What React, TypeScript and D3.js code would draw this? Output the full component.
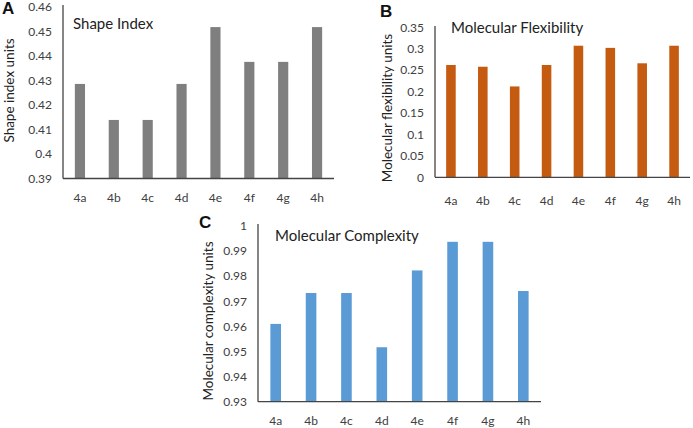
import React from "react";
import * as d3 from "d3";

const categories = ["4a", "4b", "4c", "4d", "4e", "4f", "4g", "4h"];
const shapeIndex = [0.4286, 0.4139, 0.4139, 0.4286, 0.4518, 0.4376, 0.4376, 0.4518];
const flexibility = [0.262, 0.258, 0.212, 0.262, 0.307, 0.302, 0.266, 0.307];
const complexity = [0.961, 0.9733, 0.9733, 0.9517, 0.9823, 0.9937, 0.9937, 0.9741];
const shapeTicks = [0.39, 0.4, 0.41, 0.42, 0.43, 0.44, 0.45, 0.46];
const flexTicks = [0, 0.05, 0.1, 0.15, 0.2, 0.25, 0.3, 0.35];
const complexTicks = [0.93, 0.94, 0.95, 0.96, 0.97, 0.98, 0.99, 1];

const FONT = "Lato, 'Open Sans', sans-serif";

type PanelProps = {
  letter: string;
  letterX: number;
  letterY: number;
  title: string;
  titleX: number;
  titleY: number;
  yLabel: string;
  yLabelX: number;
  yLabelY: number;
  x0: number;
  x1: number;
  yTop: number;
  yBottom: number;
  axisTop: number;
  values: number[];
  ticks: number[];
  color: string;
  tickLabelY: number;
  fmt: (v: number) => string;
};

function Panel(p: PanelProps) {
  const x = d3.scaleBand<string>().domain(categories).range([p.x0, p.x1]).paddingInner(0.7).paddingOuter(0.35);
  const y = d3.scaleLinear().domain([p.ticks[0], p.ticks[p.ticks.length - 1]]).range([p.yBottom, p.yTop]);
  const xc = (c: string) => (x(c) as number) + x.bandwidth() / 2;
  return (
    <g fontFamily={FONT}>
      <text x={p.letterX} y={p.letterY} fontSize={17} fontWeight="bold" fill="#111" fontFamily="'Liberation Sans', Arial, sans-serif">
        {p.letter}
      </text>
      {p.values.map((v, i) => (
        <rect
          key={i}
          x={x(categories[i])}
          y={y(v)}
          width={x.bandwidth()}
          height={p.yBottom - y(v)}
          fill={p.color}
        />
      ))}
      <line x1={p.x0} x2={p.x0} y1={p.axisTop} y2={p.yBottom} stroke="#444" strokeWidth={1.3} />
      <line x1={p.x0} x2={p.x1} y1={p.yBottom} y2={p.yBottom} stroke="#444" strokeWidth={1.3} />
      {p.ticks.map((t) => (
        <text key={t} x={p.x0 - 11} y={y(t)} dy="0.35em" textAnchor="end" fontSize={12} fill="#404040">
          {p.fmt(t)}
        </text>
      ))}
      {categories.map((c) => (
        <text key={c} x={xc(c)} y={p.tickLabelY} textAnchor="middle" fontSize={12} fill="#404040">
          {c}
        </text>
      ))}
      <text x={p.titleX} y={p.titleY} fontSize={15} fill="#222">
        {p.title}
      </text>
      <text
        transform={`translate(${p.yLabelX},${p.yLabelY}) rotate(-90)`}
        textAnchor="middle"
        dy="0.35em"
        fontSize={13.5}
        fill="#222"
      >
        {p.yLabel}
      </text>
    </g>
  );
}

const fmt = (v: number) => d3.format("")(+v.toFixed(2));

export default function App() {
  return (
    <svg width={693} height={428} style={{ position: "absolute", left: 0, top: 0, background: "#fff" }}>
      <rect width={693} height={428} fill="#fff" />
      <Panel
        letter="A"
        letterX={2}
        letterY={14}
        title="Shape Index"
        titleX={73}
        titleY={29}
        yLabel="Shape index units"
        yLabelX={9}
        yLabelY={90.5}
        x0={63}
        x1={334}
        yTop={7}
        yBottom={178.5}
        axisTop={5}
        values={shapeIndex}
        ticks={shapeTicks}
        color="#7f7f7f"
        tickLabelY={202}
        fmt={fmt}
      />
      <Panel
        letter="B"
        letterX={380}
        letterY={17}
        title="Molecular Flexibility"
        titleX={451}
        titleY={33}
        yLabel="Molecular flexibility units"
        yLabelX={387}
        yLabelY={108}
        x0={435}
        x1={690}
        yTop={27.3}
        yBottom={177.3}
        axisTop={26}
        values={flexibility}
        ticks={flexTicks}
        color="#c55a11"
        tickLabelY={205}
        fmt={fmt}
      />
      <Panel
        letter="C"
        letterX={199}
        letterY={228}
        title="Molecular Complexity"
        titleX={275}
        titleY={241}
        yLabel="Molecular complexity units"
        yLabelX={208}
        yLabelY={321}
        x0={258}
        x1={541}
        yTop={226}
        yBottom={401.7}
        axisTop={224}
        values={complexity}
        ticks={complexTicks}
        color="#5b9bd5"
        tickLabelY={425}
        fmt={fmt}
      />
    </svg>
  );
}
